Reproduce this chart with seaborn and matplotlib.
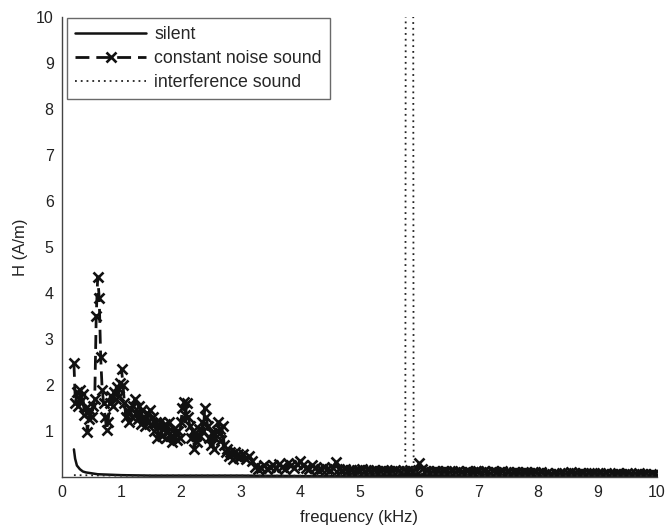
import numpy as np
import pandas as pd
import matplotlib
matplotlib.use("Agg")
import matplotlib.pyplot as plt
import seaborn as sns

# ---- data ----
noise_freq = np.round(np.concatenate([np.arange(0.200, 2.9999, 0.025),
                                      np.arange(3.00, 10.0001, 0.05)]), 3)
noise_H = [
    # 0.200 - 0.975 (step 0.025)
    2.48, 1.60, 1.85, 1.55, 1.90, 1.65, 1.80, 1.35, 1.50, 0.98, 1.25, 1.45,
    1.30, 1.55, 1.70, 3.50, 4.35, 3.90, 2.60, 1.90, 1.60, 1.30, 1.02, 1.20,
    1.60, 1.75, 1.55, 1.85, 1.70, 1.95, 1.75, 2.05,
    # 1.000 - 1.975
    2.35, 2.00, 1.60, 1.30, 1.45, 1.20, 1.50, 1.30, 1.55, 1.70, 1.40, 1.25, 1.55, 1.15, 1.45, 1.25, 1.10, 1.40, 1.20, 1.45,
    1.15, 1.30, 1.00, 1.20, 0.85, 1.10, 1.20, 0.90, 1.05, 1.15, 0.85, 1.00, 1.20, 0.90, 0.75, 1.05, 0.95, 0.80, 1.00, 0.85,
    # 2.000 - 2.975
    1.20, 1.50, 1.62, 1.35, 1.60, 1.30, 1.10, 0.85, 1.00, 0.60, 0.90, 0.75, 1.05, 0.90, 1.20, 1.00, 1.50, 1.30, 1.10, 0.85,
    0.70, 0.95, 0.60, 0.85, 1.00, 1.20, 1.05, 0.80, 1.10, 0.70, 0.55, 0.60, 0.45, 0.55, 0.50, 0.40, 0.55, 0.45, 0.50, 0.42,
    # 3.00 - 10.00 (step 0.05)
    0.45, 0.50, 0.40, 0.45, 0.35, 0.22, 0.18, 0.20, 0.25, 0.18, 0.22, 0.25, 0.20, 0.28, 0.22, 0.18, 0.30, 0.25, 0.20, 0.28,
    0.35, 0.25, 0.20, 0.18, 0.25, 0.20, 0.15, 0.18, 0.22, 0.18, 0.15, 0.20, 0.32, 0.18, 0.15, 0.18, 0.14, 0.16, 0.12, 0.15,
    0.15, 0.18, 0.12, 0.15, 0.13, 0.16, 0.12, 0.14, 0.15, 0.12, 0.14, 0.12, 0.15, 0.13, 0.11, 0.14, 0.12, 0.15, 0.13, 0.14,
    0.30, 0.18, 0.12, 0.14, 0.11, 0.13, 0.12, 0.10, 0.14, 0.12, 0.11, 0.13, 0.10, 0.12, 0.11, 0.09, 0.12, 0.10, 0.11, 0.13,
    0.12, 0.10, 0.14, 0.11, 0.09, 0.12, 0.10, 0.11, 0.13, 0.09, 0.10, 0.08, 0.11, 0.10, 0.09, 0.11, 0.10, 0.08, 0.09, 0.10,
    0.08, 0.10, 0.07, 0.09, 0.06, 0.05, 0.08, 0.06, 0.09, 0.07, 0.08, 0.10, 0.09, 0.07, 0.08, 0.09, 0.07, 0.08, 0.06, 0.08,
    0.07, 0.09, 0.06, 0.08, 0.05, 0.07, 0.06, 0.08, 0.07, 0.06, 0.08, 0.07, 0.05, 0.06, 0.08, 0.07, 0.06, 0.05, 0.07, 0.06, 0.05,
]

silent_freq = [0.20, 0.22, 0.25, 0.30, 0.35, 0.40, 0.50, 0.60, 0.80, 1.00, 1.50, 2.00, 3.00, 4.00, 5.00, 6.00, 7.00, 8.00, 9.00, 10.00]
silent_H = [0.60, 0.40, 0.25, 0.17, 0.12, 0.10, 0.08, 0.06, 0.05, 0.04, 0.03, 0.03, 0.03, 0.02, 0.02, 0.02, 0.02, 0.02, 0.02, 0.02]

interf_freq = [0.20, 1.00, 2.00, 3.00, 4.00, 5.00, 5.70, 5.77, 5.78, 5.90, 5.91, 6.00, 7.00, 8.00, 9.00, 10.00]
interf_H = [0.04, 0.03, 0.03, 0.03, 0.03, 0.04, 0.08, 0.12, 15.0, 15.0, 0.12, 0.08, 0.03, 0.03, 0.03, 0.03]

xticks = list(range(0, 11))
yticks = list(range(1, 11))

# ---- plot ----
sns.set_theme(style="white")
plt.rcParams['font.family'] = ['Liberation Sans', 'DejaVu Sans']

fig = plt.figure(figsize=(6.69, 5.31), dpi=100)
ax = fig.add_axes([0.0927, 0.1017, 0.8893, 0.8663])

sns.lineplot(x=silent_freq, y=silent_H, ax=ax, color='#111111', linewidth=1.8,
             linestyle='-', label='silent', sort=False)
sns.lineplot(x=noise_freq, y=noise_H, ax=ax, color='#111111', linewidth=2.0,
             linestyle=(0, (5, 2.5)), marker='x', markersize=6.5, markeredgewidth=1.9,
             markeredgecolor='#111111', label='constant noise sound', sort=False)
sns.lineplot(x=interf_freq, y=interf_H, ax=ax, color='#222222', linewidth=1.3,
             linestyle=(0, (1, 2.2)), label='interference sound', sort=False)

ax.set_xlim(0, 10)
ax.set_ylim(0, 10)
ax.set_xticks(xticks)
ax.set_yticks(yticks)
ax.tick_params(direction='in', length=4, width=0.8, colors='#333333',
               labelsize=11.5, labelcolor='#222222', pad=6)
for s in ['top', 'right']:
    ax.spines[s].set_visible(False)
for s in ['left', 'bottom']:
    ax.spines[s].set_color('#444444')
    ax.spines[s].set_linewidth(1.0)

ax.set_xlabel('frequency (kHz)', fontsize=12, color='#222222', labelpad=7)
ax.set_ylabel('H (A/m)', fontsize=12, color='#222222', labelpad=6)

leg = ax.legend(loc='upper left', bbox_to_anchor=(5 / 595, 1 - 1 / 460),
                fontsize=12.8, handlelength=4.0, frameon=True,
                fancybox=False, borderpad=0.45, labelspacing=0.4, handletextpad=0.45,
                borderaxespad=0.0)
leg.get_frame().set_edgecolor('#444444')
leg.get_frame().set_linewidth(1.0)

fig.savefig('out.png', dpi=100, facecolor='white')
